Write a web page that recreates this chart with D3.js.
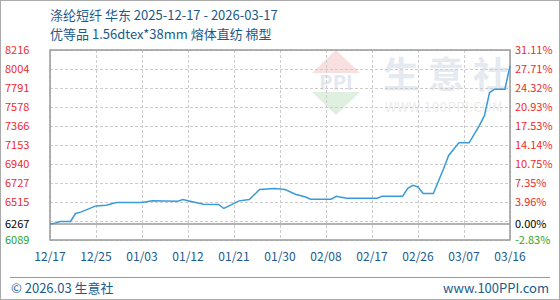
<!DOCTYPE html>
<html lang="zh-CN">
<head>
  <meta charset="UTF-8">
  <title>涤纶短纤 华东</title>
  <script src="https://d3js.org/d3.v7.min.js"></script>
  <style>
    html, body {
      margin: 0;
      padding: 0;
      background: #fff;
    }
    #chart {
      width: 560px;
      height: 300px;
    }
    text {
      font-family: "Noto Sans CJK SC", "Liberation Sans", sans-serif;
    }
  </style>
</head>
<body>
  <div id="chart"></div>
  <script>
    var dates = [
      "2025-12-17", "2025-12-18", "2025-12-19", "2025-12-21", "2025-12-22", "2025-12-23",
      "2025-12-26", "2025-12-28", "2025-12-30", "2026-01-04", "2026-01-06", "2026-01-11",
      "2026-01-12", "2026-01-13", "2026-01-16", "2026-01-19", "2026-01-20", "2026-01-23",
      "2026-01-25", "2026-01-27", "2026-01-30", "2026-02-01", "2026-02-03", "2026-02-05",
      "2026-02-06", "2026-02-10", "2026-02-11", "2026-02-13", "2026-02-19", "2026-02-20",
      "2026-02-24", "2026-02-25", "2026-02-26", "2026-02-27", "2026-02-28", "2026-03-02",
      "2026-03-04", "2026-03-05", "2026-03-07", "2026-03-09", "2026-03-11", "2026-03-12",
      "2026-03-13", "2026-03-14", "2026-03-16", "2026-03-17"
    ];
    var prices = [
      6267, 6278, 6295, 6297, 6386, 6401,
      6471, 6479, 6509, 6509, 6527, 6523,
      6542, 6529, 6490, 6487, 6442, 6527,
      6542, 6654, 6665, 6654, 6601, 6571,
      6546, 6546, 6579, 6557, 6557, 6579,
      6579, 6668, 6701, 6683, 6609, 6609,
      6887, 7036, 7177, 7177, 7370, 7481,
      7740, 7778, 7778, 8038
    ];
    var xLabels = ["12/17", "12/25", "01/03", "01/12", "01/21", "01/30", "02/08", "02/17", "02/26", "03/07", "03/16"];
    var yLabels = [8216, 8004, 7791, 7578, 7366, 7153, 6940, 6727, 6515, 6267, 6089];
    var pctLabels = ["31.11%", "27.71%", "24.32%", "20.93%", "17.53%", "14.14%", "10.75%", "7.35%", "3.96%", "0.00%", "-2.83%"];
    var basePrice = 6267;

    var width = 560,
        height = 300,
        plot = { left: 50, right: 510, top: 50, bottom: 240 },
        lineColor = "#3a9ad9",
        textBlue = "#1a5a8c",
        gridColor = "#cccccc",
        frameColor = "#999999";

    var parseDate = d3.timeParse("%Y-%m-%d");
    var data = dates.map(function(d, i) {
      return { date: parseDate(d), price: prices[i] };
    });

    var start = parseDate("2025-12-17"),
        end = parseDate("2026-03-17");

    var x = d3.scaleTime().domain([start, end]).range([plot.left, plot.right]);
    var y = d3.scaleLinear().domain([6089, 8216]).range([plot.bottom, plot.top]);

    var svg = d3.select("#chart").append("svg")
      .attr("width", width)
      .attr("height", height);

    svg.append("rect")
      .attr("x", 0.5).attr("y", 0.5)
      .attr("width", width - 1).attr("height", height - 1)
      .attr("fill", "#fff")
      .attr("stroke", "#aaaaaa");

    // title
    svg.append("text")
      .attr("x", 50).attr("y", 20)
      .attr("font-size", "13px")
      .attr("fill", textBlue)
      .text("涤纶短纤 华东 2025-12-17 - 2026-03-17");
    svg.append("text")
      .attr("x", 50).attr("y", 39)
      .attr("font-size", "13px")
      .attr("fill", textBlue)
      .text("优等品 1.56dtex*38mm 熔体直纺 棉型");

    // watermark
    var wm = svg.append("g").attr("opacity", 0.75);
    wm.append("path")
      .attr("d", "M312,73 L336,50 L360,73 Z")
      .attr("fill", "#f6d6d6");
    wm.append("text")
      .attr("x", 336).attr("y", 90)
      .attr("text-anchor", "middle")
      .attr("font-size", "20px")
      .attr("font-weight", "bold")
      .attr("font-family", "Liberation Serif, serif")
      .attr("fill", "#d9e0ec")
      .text("PPI");
    wm.append("path")
      .attr("d", "M312,92 L360,92 L336,115 Z")
      .attr("fill", "#d6ecd6");
    wm.selectAll(".wm-char")
      .data(["生", "意", "社"])
      .enter().append("text")
      .attr("class", "wm-char")
      .attr("x", function(d, i) { return 383 + i * 45; })
      .attr("y", 88)
      .attr("font-size", "36px")
      .attr("font-weight", "bold")
      .attr("fill", "#dde2ec")
      .text(function(d) { return d; });
    wm.append("text")
      .attr("x", 385).attr("y", 112)
      .attr("font-size", "13px")
      .attr("font-family", "Liberation Sans, sans-serif")
      .attr("fill", "#e6e6e6")
      .attr("letter-spacing", "0.5px")
      .text("WWW.100PPI.COM");

    // grid
    var gridY = d3.range(11).map(function(i) { return 6089 + i * (8216 - 6089) / 10; });
    svg.append("g").selectAll("line")
      .data(gridY)
      .enter().append("line")
      .attr("x1", plot.left).attr("x2", plot.right)
      .attr("y1", function(d) { return Math.round(y(d)) + 0.5; })
      .attr("y2", function(d) { return Math.round(y(d)) + 0.5; })
      .attr("stroke", gridColor)
      .attr("stroke-dasharray", "3,2");

    var gridX = d3.range(11).map(function(i) { return d3.timeDay.offset(start, i * 9); });
    svg.append("g").selectAll("line")
      .data(gridX)
      .enter().append("line")
      .attr("x1", function(d) { return Math.round(x(d)) + 0.5; })
      .attr("x2", function(d) { return Math.round(x(d)) + 0.5; })
      .attr("y1", plot.top).attr("y2", plot.bottom)
      .attr("stroke", gridColor)
      .attr("stroke-dasharray", "3,2");

    // base line and frame
    svg.append("line")
      .attr("x1", plot.left).attr("x2", plot.right)
      .attr("y1", y(basePrice)).attr("y2", y(basePrice))
      .attr("stroke", frameColor)
      .attr("stroke-width", 1.5);
    svg.append("rect")
      .attr("x", plot.left).attr("y", plot.top)
      .attr("width", plot.right - plot.left)
      .attr("height", plot.bottom - plot.top)
      .attr("fill", "none")
      .attr("stroke", frameColor)
      .attr("stroke-width", 1.5);

    var line = d3.line()
      .x(function(d) { return x(d.date); })
      .y(function(d) { return y(d.price); });

    svg.append("path")
      .datum(data)
      .attr("d", line)
      .attr("fill", "none")
      .attr("stroke", lineColor)
      .attr("stroke-width", 1.5);

    // axis labels
    function labelColor(v) {
      if (v > basePrice) return "#ee2a2a";
      if (v < basePrice) return "#2aa52a";
      return "#000";
    }

    svg.append("g").selectAll("text")
      .data(yLabels)
      .enter().append("text")
      .attr("x", 5)
      .attr("y", function(d) { return y(d); })
      .attr("dy", "0.35em")
      .attr("font-size", "11px")
      .attr("font-family", "Liberation Sans, sans-serif")
      .attr("fill", labelColor)
      .text(function(d) { return d; });

    svg.append("g").selectAll("text")
      .data(pctLabels)
      .enter().append("text")
      .attr("x", 515)
      .attr("y", function(d, i) { return y(yLabels[i]); })
      .attr("dy", "0.35em")
      .attr("font-size", "11px")
      .attr("font-family", "Liberation Sans, sans-serif")
      .attr("fill", function(d, i) { return labelColor(yLabels[i]); })
      .text(function(d) { return d; });

    svg.append("g").selectAll("text")
      .data(xLabels)
      .enter().append("text")
      .attr("x", function(d, i) { return x(gridX[i]); })
      .attr("y", 261)
      .attr("text-anchor", "middle")
      .attr("font-size", "12px")
      .attr("font-family", "Liberation Sans, sans-serif")
      .attr("fill", textBlue)
      .text(function(d) { return d; });

    // footer
    svg.append("line")
      .attr("x1", 10).attr("x2", 550)
      .attr("y1", 277.5).attr("y2", 277.5)
      .attr("stroke", "#999");
    svg.append("text")
      .attr("x", 11).attr("y", 293)
      .attr("font-size", "13px")
      .attr("fill", textBlue)
      .text("© 2026.03 生意社");
    svg.append("text")
      .attr("x", 549).attr("y", 293)
      .attr("text-anchor", "end")
      .attr("font-size", "13px")
      .attr("fill", textBlue)
      .text("www.100PPI.com");
  </script>
</body>
</html>
